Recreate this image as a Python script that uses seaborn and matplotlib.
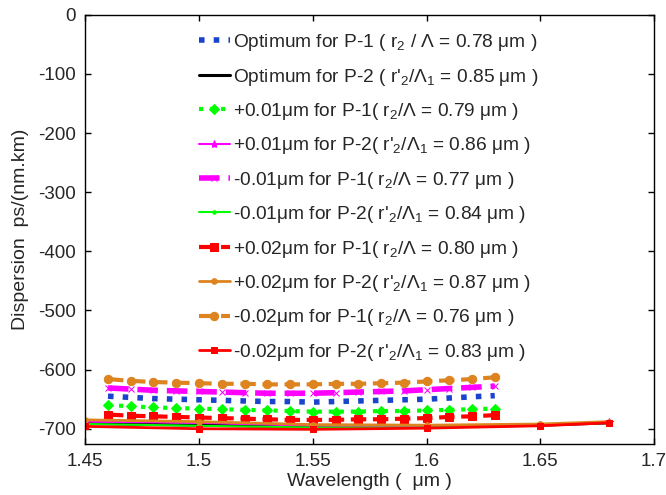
import numpy as np
import pandas as pd
import matplotlib
matplotlib.use("Agg")
import matplotlib.pyplot as plt
import seaborn as sns

# wavelengths (um)
wl_p1 = [1.46, 1.47, 1.48, 1.49, 1.50, 1.51, 1.52, 1.53, 1.54, 1.55,
         1.56, 1.57, 1.58, 1.59, 1.60, 1.61, 1.62, 1.63]
wl_p2 = [1.45, 1.50, 1.55, 1.60, 1.65, 1.68]

# P-1 designs (dispersion ps/(nm.km))
p1_opt = [-645, -647, -649, -650, -651, -652, -653, -654, -654, -655,
          -654, -653, -652, -651, -650, -648, -646, -644]
p1_plus01 = [-660, -662, -664, -665, -666, -667, -668, -669, -670, -671,
             -671, -671, -670, -670, -669, -668, -667, -666]
p1_minus01 = [-631, -633, -635, -636, -637, -638, -639, -640, -640, -640,
              -639, -638, -637, -636, -634, -632, -630, -628]
p1_plus02 = [-676, -678, -679, -680, -681, -682, -683, -684, -685, -685,
             -685, -684, -684, -683, -682, -680, -679, -677]
p1_minus02 = [-616, -619, -621, -622, -623, -624, -624, -625, -625, -625,
              -624, -624, -623, -622, -620, -618, -616, -613]

# P-2 designs
p2_opt = [-691, -694, -697, -697, -694, -690]
p2_plus01 = [-688, -690, -695, -696, -693, -689]
p2_minus01 = [-692, -695, -698, -698, -694, -690]
p2_plus02 = [-685, -688, -693, -694, -692, -688]
p2_minus02 = [-696, -700, -701, -699, -695, -690]

labels = [
    "Optimum for P-1 ( r$_2$ / Λ = 0.78 μm )",
    "Optimum for P-2 ( r'$_2$/Λ$_1$ = 0.85 μm )",
    "+0.01μm for P-1( r$_2$/Λ = 0.79 μm )",
    "+0.01μm for P-2( r'$_2$/Λ$_1$ = 0.86 μm )",
    "-0.01μm for P-1( r$_2$/Λ = 0.77 μm )",
    "-0.01μm for P-2( r'$_2$/Λ$_1$ = 0.84 μm )",
    "+0.02μm for P-1( r$_2$/Λ = 0.80 μm )",
    "+0.02μm for P-2( r'$_2$/Λ$_1$ = 0.87 μm )",
    "-0.02μm for P-1( r$_2$/Λ = 0.76 μm )",
    "-0.02μm for P-2( r'$_2$/Λ$_1$ = 0.83 μm )",
]

sns.set_style("white")
plt.rcParams["font.family"] = ["Liberation Sans", "DejaVu Sans"]
plt.rcParams["mathtext.fontset"] = "custom"
plt.rcParams["mathtext.rm"] = "Liberation Sans"
plt.rcParams["mathtext.it"] = "Liberation Sans"
plt.rcParams["axes.unicode_minus"] = False

orange = "#dd8420"
series = [
    (wl_p1, p1_opt, dict(color="#1a44cc", linestyle=":", linewidth=4, marker=None)),
    (wl_p2, p2_opt, dict(color="black", linestyle="-", linewidth=2.2, marker=None)),
    (wl_p1, p1_plus01, dict(color="#00ff00", linestyle=":", linewidth=3, marker="D", markersize=5)),
    (wl_p2, p2_plus01, dict(color="#ff00ff", linestyle="-", linewidth=1.5, marker="*", markersize=6)),
    (wl_p1, p1_minus01, dict(color="#ff00ff", linestyle="--", linewidth=4, marker="x", markersize=5)),
    (wl_p2, p2_minus01, dict(color="#00ff00", linestyle="-", linewidth=1.5, marker=".", markersize=5)),
    (wl_p1, p1_plus02, dict(color="#ff0000", linestyle="--", linewidth=3, marker="s", markersize=6)),
    (wl_p2, p2_plus02, dict(color=orange, linestyle="-", linewidth=2, marker="o", markersize=4)),
    (wl_p1, p1_minus02, dict(color=orange, linestyle="--", linewidth=3, marker="o", markersize=6)),
    (wl_p2, p2_minus02, dict(color="#ff0000", linestyle="-", linewidth=2, marker="s", markersize=5)),
]

fig = plt.figure(figsize=(6.66, 4.95), dpi=100)
ax = fig.add_axes([0.128, 0.104, 0.854, 0.866])

for (x, y, style), lab in zip(series, labels):
    df = pd.DataFrame({"wl": x, "D": y})
    sns.lineplot(data=df, x="wl", y="D", ax=ax, label=lab,
                 markeredgecolor=style["color"], **style)

ax.set_xlim(1.45, 1.7)
ax.set_ylim(-725, 0)
ax.set_xticks([1.45, 1.5, 1.55, 1.6, 1.65, 1.7])
ax.set_xticklabels(["1.45", "1.5", "1.55", "1.6", "1.65", "1.7"])
ax.set_yticks(np.arange(-700, 1, 100))
ax.tick_params(direction="in", bottom=True, left=True, top=True, right=True,
               labelsize=13.5, length=4, width=1, color="black", pad=7)
for s in ax.spines.values():
    s.set_linewidth(1)
    s.set_color("black")
ax.set_xlabel("Wavelength (  μm )", fontsize=14, labelpad=2)
ax.set_ylabel("Dispersion  ps/(nm.km)", fontsize=14, labelpad=6)

ax.legend(loc="upper center", frameon=False, fontsize=13.8, handlelength=1.6,
          handletextpad=0.15, labelspacing=0.7, borderaxespad=0.5,
          bbox_to_anchor=(0.498, 1.0))

fig.savefig("out.png", dpi=100)
